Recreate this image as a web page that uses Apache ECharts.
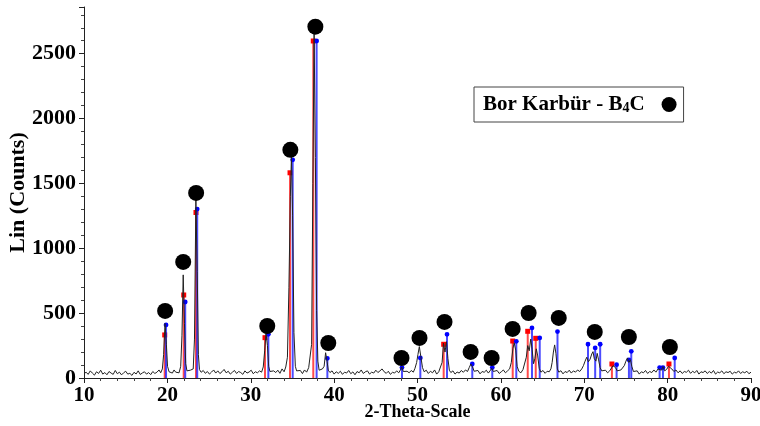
<!DOCTYPE html>
<html>
<head>
<meta charset="utf-8">
<script src="https://cdn.jsdelivr.net/npm/echarts@6/dist/echarts.min.js"></script>
<style>html,body{margin:0;padding:0;background:#fff}#c{width:760px;height:426px}</style>
</head>
<body>
<div id="c"></div>
<script>
// XRD pattern (2-Theta, Lin counts)
const pattern = [
[10,32],[10.25,45],[10.5,28],[10.75,55],[11,38],[11.25,22],[11.5,48],[11.75,35],[12,60],[12.25,30],[12.5,42],[12.75,25],
[13,50],[13.25,38],[13.5,28],[13.75,58],[14,33],[14.25,45],[14.5,24],[14.75,40],[15,52],[15.25,30],[15.5,36],[15.75,20],
[16,44],[16.25,31],[16.5,55],[16.75,27],[17,39],[17.25,48],[17.5,30],[17.75,42],[18,26],[18.25,50],[18.5,35],[18.75,45],
[19,62],[19.2,40],[19.4,70],[19.55,180],[19.72,420],[19.88,260],[20.02,90],[20.2,48],
[20.4,55],[20.6,38],[20.8,62],[21,45],[21.2,58],[21.4,40],
[21.6,90],[21.75,330],[21.9,795],[22.05,420],[22.2,110],[22.35,55],
[22.55,42],[22.75,60],[22.95,48],[23.1,70],
[23.25,300],[23.42,1373],[23.58,820],[23.72,180],[23.85,65],
[24.05,44],[24.3,58],[24.55,36],[24.8,50],[25.05,30],[25.3,46],[25.55,62],[25.8,38],[26.05,55],[26.3,34],[26.55,48],
[26.8,66],[27.05,40],[27.3,52],[27.55,30],[27.8,45],[28.05,58],[28.3,35],[28.55,50],[28.8,42],[29.05,28],[29.3,55],
[29.55,38],[29.8,46],[30.05,60],[30.3,33],[30.55,48],[30.8,40],[31.05,55],[31.3,45],
[31.5,85],[31.67,210],[31.83,347],[32,250],[32.15,90],[32.3,50],
[32.5,38],[32.75,55],[33,42],[33.25,60],[33.5,36],[33.75,70],[34,48],[34.2,85],
[34.4,160],[34.58,700],[34.75,1400],[34.88,1705],[35.02,1250],[35.18,350],[35.35,90],[35.5,55],
[35.7,40],[35.95,58],[36.2,34],[36.45,62],[36.7,45],[36.95,80],[37.15,95],
[37.3,260],[37.45,1500],[37.6,2660],[37.75,1700],[37.9,520],[38.05,130],[38.2,60],
[38.4,45],[38.6,70],[38.8,90],[38.98,195],[39.15,130],[39.3,60],
[39.5,42],[39.75,55],[40,30],[40.25,48],[40.5,36],[40.75,52],[41,28],[41.25,45],[41.5,38],[41.75,58],[42,33],[42.25,47],
[42.5,25],[42.75,50],[43,40],[43.25,62],[43.5,35],[43.75,48],[44,55],[44.25,30],[44.5,45],[44.75,38],[45,60],[45.25,42],
[45.5,55],[45.75,70],[46,48],[46.25,36],[46.5,52],[46.75,28],[47,44],[47.25,38],[47.5,55],[47.75,40],
[47.95,62],[48.12,85],[48.3,50],
[48.5,35],[48.75,52],[49,40],[49.25,58],[49.5,45],[49.7,75],
[49.9,120],[50.05,180],[50.22,242],[50.4,165],[50.6,80],
[50.8,48],[51.05,60],[51.3,35],[51.55,52],[51.8,40],[52.05,62],[52.3,30],[52.55,48],[52.75,55],
[52.95,120],[53.12,268],[53.3,200],[53.48,280],[53.65,150],[53.82,60],
[54,42],[54.25,55],[54.5,30],[54.75,46],[55,38],[55.25,58],[55.5,44],[55.75,62],[56,50],
[56.2,80],[56.4,108],[56.6,85],[56.8,52],
[57,40],[57.25,58],[57.5,32],[57.75,50],[58,44],[58.25,60],[58.5,38],[58.7,55],[58.9,75],[59.1,50],
[59.3,42],[59.55,58],[59.8,35],[60.05,48],[60.3,62],[60.55,40],[60.8,55],[61.05,70],
[61.25,120],[61.45,230],[61.6,270],[61.78,215],[61.95,90],
[62.15,52],[62.4,40],[62.65,65],[62.85,80],
[63.05,160],[63.22,250],[63.4,210],[63.58,300],[63.75,220],[63.92,110],[64.08,150],[64.25,225],[64.42,170],[64.6,75],
[64.8,45],[65.05,58],[65.3,36],[65.55,52],[65.8,48],[66,70],
[66.15,120],[66.3,200],[66.45,255],[66.6,190],[66.78,70],
[66.95,45],[67.2,56],[67.45,32],[67.7,50],[67.95,42],[68.2,60],[68.45,38],[68.7,55],[68.95,45],[69.2,62],[69.45,50],
[69.7,70],[69.9,95],[70.1,130],[70.3,160],[70.5,125],[70.7,145],[70.9,185],[71.05,203],[71.2,150],[71.4,130],[71.55,190],
[71.72,140],[71.9,80],[72.1,55],
[72.3,45],[72.55,60],[72.8,40],[73.05,55],[73.25,70],[73.45,95],[73.6,108],[73.75,80],[73.95,55],
[74.15,48],[74.4,62],[74.6,70],[74.8,95],[75,130],[75.18,155],[75.35,120],[75.55,140],[75.7,90],[75.9,50],
[76.1,38],[76.35,55],[76.6,30],[76.85,48],[77.1,40],[77.35,58],[77.6,35],[77.85,50],[78.1,42],[78.35,62],[78.6,45],
[78.85,70],[79.05,85],[79.25,60],[79.45,88],[79.65,55],[79.9,68],[80.1,90],[80.3,105],[80.5,70],[80.75,50],[81,62],
[81.25,40],[81.5,55],[81.75,35],[82,50],[82.25,44],[82.5,60],[82.75,36],[83,52],[83.25,40],[83.5,58],[83.75,30],[84,48],
[84.25,42],[84.5,55],[84.75,35],[85,50],[85.25,38],[85.5,58],[85.75,30],[86,46],[86.25,40],[86.5,55],[86.75,33],[87,48],
[87.25,42],[87.5,52],[87.75,30],[88,45],[88.25,38],[88.5,55],[88.75,35],[89,48],[89.25,40],[89.5,52],[89.75,33],[90,45]
];

// reference sticks (2-Theta, intensity)
const redSticks = [
[19.68,332],[21.96,640],[23.43,1276],[31.71,311],[34.71,1582],[37.50,2598],
[53.14,260],[61.42,285],[63.22,360],[64.18,306],[73.32,108],[80.16,108]
];
const blueSticks = [
[19.84,409],[22.14,586],[23.58,1302],[32.11,337],[35.03,1682],[37.90,2598],[39.19,152],
[48.14,80],[50.34,155],[53.54,337],[56.57,108],[58.97,80],[61.85,283],[63.73,386],[64.66,309],
[66.79,358],[70.45,260],[71.31,232],[71.91,260],[73.88,103],[75.36,140],[75.64,206],
[79.04,80],[79.44,80],[80.85,154]
];

// B4C phase markers (black dots above peaks)
const b4cMarks = [
[19.73,517],[21.9,895],[23.45,1427],[31.98,401],[34.75,1759],[37.75,2708],[39.3,270],
[48.08,154],[50.24,309],[53.24,432],[56.37,201],[58.89,154],[61.41,378],[63.33,501],
[66.94,463],[71.26,355],[75.35,316],[80.27,239]
];

const xTicks = {min: 10, max: 90, step: 10};
const yTicks = {min: 0, max: 2860, step: 500};
const phaseName = 'Bor Karbür - B4C';

const serif = '"Liberation Serif", "Times New Roman", serif';

function stickSeries(name, data, lineColor, markerType, markerColor) {
  return {
    name: name, type: 'custom', data: data, z: 2, silent: true,
    renderItem: function (params, api) {
      const x = api.value(0), y = api.value(1);
      const p0 = api.coord([x, 0]);
      const p1 = api.coord([x, y]);
      const marker = markerType === 'rect'
        ? {type: 'rect', shape: {x: p1[0] - 2.5, y: p1[1] - 2.5, width: 5, height: 5}, style: {fill: markerColor}}
        : {type: 'circle', shape: {cx: p1[0], cy: p1[1], r: 2.4}, style: {fill: markerColor}};
      return {
        type: 'group',
        children: [
          {type: 'line', shape: {x1: p0[0], y1: p0[1], x2: p1[0], y2: p1[1]}, style: {stroke: lineColor, lineWidth: 2}},
          marker
        ]
      };
    }
  };
}

const chart = echarts.init(document.getElementById('c'), null, {renderer: 'canvas'});
chart.setOption({
  animation: false,
  backgroundColor: '#fff',
  grid: {left: 84, right: 9, top: 7, bottom: 48, containLabel: false, outerBoundsMode: 'none'},
  legend: {
    data: [phaseName],
    left: 474, top: 87,
    align: 'right',
    icon: 'circle',
    itemWidth: 15, itemHeight: 15,
    padding: [7, 7, 7, 9],
    borderColor: '#444', borderWidth: 1, borderRadius: 0,
    backgroundColor: '#fff',
    selectedMode: false,
    formatter: function () { return '{t|Bor Karbür - B}{s|4}{t|C}{g|}'; },
    textStyle: {
      fontFamily: serif, fontWeight: 'bold', fontSize: 21, color: '#000',
      rich: {
        t: {fontFamily: serif, fontWeight: 'bold', fontSize: 21, color: '#000'},
        s: {fontFamily: serif, fontWeight: 'bold', fontSize: 14, color: '#000', verticalAlign: 'bottom', padding: [6, 0, 0, 0]},
        g: {width: 12}
      }
    }
  },
  xAxis: {
    type: 'value', min: xTicks.min, max: xTicks.max, interval: xTicks.step,
    name: '2-Theta-Scale', nameLocation: 'middle', nameGap: 25, nameMoveOverlap: false,
    nameTextStyle: {fontFamily: serif, fontWeight: 'bold', fontSize: 18, color: '#000'},
    axisLine: {show: true, onZero: false, lineStyle: {color: '#222', width: 1}},
    axisTick: {show: true, inside: false, length: 5, lineStyle: {color: '#222'}},
    minorTick: {show: true, splitNumber: 5, length: 3, lineStyle: {color: '#444'}},
    axisLabel: {fontFamily: serif, fontWeight: 'bold', fontSize: 21, color: '#000', margin: 7},
    splitLine: {show: false}
  },
  yAxis: {
    type: 'value', min: yTicks.min, max: yTicks.max, interval: yTicks.step,
    name: 'Lin (Counts)', nameLocation: 'middle', nameGap: 55, nameMoveOverlap: false,
    nameTextStyle: {fontFamily: serif, fontWeight: 'bold', fontSize: 22, color: '#000'},
    axisLine: {show: true, lineStyle: {color: '#222', width: 1}},
    axisTick: {show: true, inside: false, length: 5, lineStyle: {color: '#222'}},
    minorTick: {show: true, splitNumber: 5, length: 3, lineStyle: {color: '#444'}},
    axisLabel: {
      fontFamily: serif, fontWeight: 'bold', fontSize: 22, color: '#000', margin: 8,
      formatter: function (v) { return v % yTicks.step === 0 ? String(v) : ''; }
    },
    splitLine: {show: false}
  },
  series: [
    stickSeries('red', redSticks, 'rgba(255,30,30,0.8)', 'rect', '#ff0000'),
    stickSeries('blue', blueSticks, 'rgba(30,30,255,0.8)', 'circle', '#0000ff'),
    {
      name: 'pattern', type: 'line', data: pattern, z: 3, silent: true,
      showSymbol: false, symbol: 'none',
      lineStyle: {color: '#222', width: 1}
    },
    {
      name: phaseName, type: 'scatter', data: b4cMarks, z: 4, silent: true,
      symbol: 'circle', symbolSize: 16,
      itemStyle: {color: '#000', opacity: 1}
    }
  ]
});
</script>
</body>
</html>
